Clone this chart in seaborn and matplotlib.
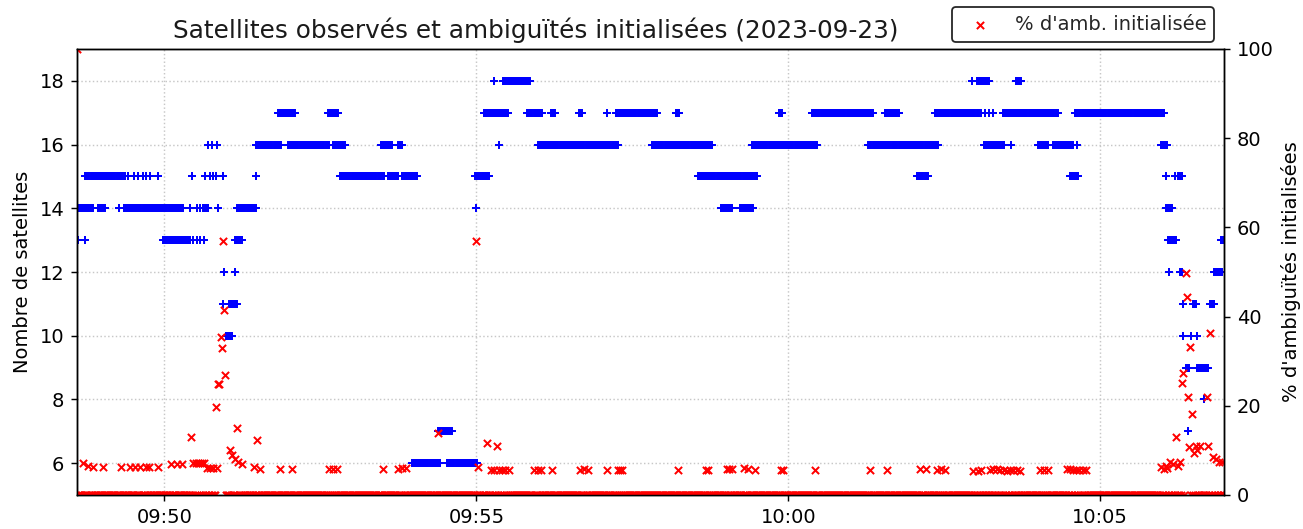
import pandas as pd
import matplotlib
matplotlib.use("Agg")
import matplotlib.pyplot as plt
import matplotlib.dates as mdates
import seaborn as sns

sns.set_style("ticks")
plt.rcParams["font.size"] = 10.8

day = "2023-09-23"
t_first = "09:48:36"
t_last = "10:06:59"

# number of satellites, continuous runs of 1 s epochs (start, end, count)
run_start = ["09:48:37", "09:48:56", "09:49:21", "09:50:37", "09:51:10", "09:58:55", "09:59:14", "10:06:03",
             "09:48:44", "09:52:49", "09:53:35", "09:53:49", "09:54:59", "09:58:33", "10:02:04", "10:04:31", "10:06:15",
             "09:51:28", "09:51:59", "09:52:42", "09:53:28", "09:53:45", "09:55:59", "09:57:49", "09:59:25",
             "10:01:17", "10:01:40", "10:03:08", "10:04:00", "10:04:15", "10:05:58",
             "09:51:49", "09:52:37", "09:55:07", "09:55:49", "09:56:12", "09:56:39", "09:57:14", "09:58:12",
             "09:59:51", "10:00:23", "10:01:33", "10:02:21", "10:03:26", "10:04:36",
             "09:55:26", "10:03:01", "10:03:39",
             "09:49:59", "09:51:08", "10:06:05", "10:06:56",
             "10:06:17", "10:06:49",
             "09:51:02", "10:06:29", "10:06:46",
             "09:50:59",
             "10:06:22", "10:06:33",
             "09:54:23",
             "09:53:58", "09:54:32"]
run_end = ["09:48:51", "09:49:03", "09:50:18", "09:50:42", "09:51:28", "09:59:06", "09:59:26", "10:06:09",
           "09:49:22", "09:53:31", "09:53:45", "09:54:03", "09:55:12", "09:59:30", "10:02:14", "10:04:39", "10:06:19",
           "09:51:52", "09:52:38", "09:52:54", "09:53:39", "09:53:49", "09:57:16", "09:58:47", "10:00:28",
           "10:01:38", "10:02:24", "10:03:27", "10:04:10", "10:04:34", "10:06:04",
           "09:52:06", "09:52:47", "09:55:30", "09:56:03", "09:56:16", "09:56:42", "09:57:54", "09:58:15",
           "09:59:54", "10:01:21", "10:01:46", "10:03:03", "10:04:19", "10:06:01",
           "09:55:52", "10:03:13", "10:03:44",
           "09:50:25", "09:51:15", "10:06:13", "10:06:59",
           "10:06:19", "10:06:57",
           "09:51:10", "10:06:32", "10:06:49",
           "09:51:05",
           "10:06:25", "10:06:44",
           "09:54:37",
           "09:54:25", "09:55:01"]
run_count = [14, 14, 14, 14, 14, 14, 14, 14,
             15, 15, 15, 15, 15, 15, 15, 15, 15,
             16, 16, 16, 16, 16, 16, 16, 16,
             16, 16, 16, 16, 16, 16,
             17, 17, 17, 17, 17, 17, 17, 17,
             17, 17, 17, 17, 17, 17,
             18, 18, 18,
             13, 13, 13, 13,
             12, 12,
             11, 11, 11,
             10,
             9, 9,
             7,
             6, 6]

# number of satellites, isolated epochs
single_time = ["09:48:36", "09:48:37", "09:48:44", "09:50:28", "09:50:31", "09:50:34", "09:50:38",
               "09:49:16", "09:50:25", "09:50:31", "09:50:34", "09:50:52", "09:55:00",
               "09:49:25", "09:49:31", "09:49:35", "09:49:39", "09:49:42", "09:49:46", "09:49:54", "09:50:27",
               "09:50:39", "09:50:44", "09:50:47", "09:50:50", "09:50:56", "09:51:28", "10:06:03", "10:06:12",
               "09:50:42", "09:50:46", "09:50:51", "09:55:22", "10:03:34", "10:04:38",
               "09:57:06", "10:03:05", "10:03:09", "10:03:13", "10:03:17",
               "09:55:17", "10:02:57",
               "09:50:57", "09:51:08", "10:06:06",
               "09:50:56", "10:06:20",
               "10:06:20", "10:06:27", "10:06:33",
               "10:06:40", "10:06:24"]
single_count = [13, 13, 13, 13, 13, 13, 13,
                14, 14, 14, 14, 14, 14,
                15, 15, 15, 15, 15, 15, 15, 15,
                15, 15, 15, 15, 15, 15, 15, 15,
                16, 16, 16, 16, 16, 16,
                17, 17, 17, 17, 17,
                18, 18,
                12, 12, 12,
                11, 11,
                10, 10, 10,
                8, 7]

# % of ambiguities initialised, epochs above 0 (every other epoch is 0 %)
amb_time = ["09:48:36", "09:48:42", "09:48:47", "09:48:51", "09:49:01", "09:49:18", "09:49:27", "09:49:32",
            "09:49:37", "09:49:42", "09:49:45", "09:49:54", "09:50:06", "09:50:12", "09:50:17", "09:50:26",
            "09:50:28", "09:50:30", "09:50:32", "09:50:34", "09:50:36", "09:50:38", "09:50:41", "09:50:44",
            "09:50:47", "09:50:50", "09:50:51", "09:50:52", "09:50:53", "09:50:54", "09:50:55", "09:50:56",
            "09:50:57", "09:50:58", "09:51:03", "09:51:05", "09:51:08", "09:51:10", "09:51:11", "09:51:15",
            "09:51:26", "09:51:29", "09:51:32", "09:51:51", "09:52:03", "09:52:38", "09:52:42", "09:52:46",
            "09:53:30", "09:53:45", "09:53:49", "09:53:52", "09:54:23", "09:55:00", "09:55:02", "09:55:10",
            "09:55:14", "09:55:17", "09:55:20", "09:55:22", "09:55:25", "09:55:28", "09:55:31", "09:55:55",
            "09:55:59", "09:56:02", "09:56:13", "09:56:40", "09:56:44", "09:56:47", "09:57:06", "09:57:16",
            "09:57:18", "09:57:20", "09:58:14", "09:58:41", "09:58:43", "09:59:01", "09:59:03", "09:59:06",
            "09:59:17", "09:59:21", "09:59:28", "09:59:53", "09:59:55", "10:00:26", "10:01:19", "10:01:35",
            "10:02:07", "10:02:12", "10:02:23", "10:02:27", "10:02:31", "10:02:58", "10:03:02", "10:03:05",
            "10:03:14", "10:03:17", "10:03:21", "10:03:24", "10:03:27", "10:03:30", "10:03:33", "10:03:36",
            "10:03:40", "10:03:43", "10:04:02", "10:04:06", "10:04:10", "10:04:28", "10:04:31", "10:04:34",
            "10:04:37", "10:04:40", "10:04:43", "10:04:46", "10:05:58", "10:06:01", "10:06:03", "10:06:04",
            "10:06:07", "10:06:10", "10:06:13", "10:06:15", "10:06:17", "10:06:19", "10:06:20", "10:06:22",
            "10:06:23", "10:06:24", "10:06:25", "10:06:26", "10:06:28", "10:06:30", "10:06:32", "10:06:33",
            "10:06:36", "10:06:43", "10:06:44", "10:06:46", "10:06:48", "10:06:51", "10:06:54", "10:06:57"]
amb_pct = [100.0, 7.2, 6.5, 6.3, 6.3, 6.3, 6.3, 6.3,
           6.3, 6.3, 6.3, 6.3, 7.0, 7.0, 7.0, 13.0,
           7.2, 7.2, 7.2, 7.2, 7.2, 7.2, 6.0, 6.0,
           6.0, 19.7, 6.0, 25.0, 25.0, 35.5, 33.0, 57.0,
           41.5, 27.0, 10.0, 9.0, 8.0, 15.0, 7.4, 7.0,
           6.3, 12.3, 5.8, 5.8, 5.8, 5.8, 5.8, 5.8,
           5.8, 5.8, 6.0, 6.0, 14.0, 57.0, 6.3, 11.6,
           5.6, 5.6, 11.0, 5.6, 5.6, 5.6, 5.6, 5.6,
           5.6, 5.6, 5.6, 5.6, 5.8, 5.6, 5.6, 5.6,
           5.6, 5.6, 5.6, 5.6, 5.6, 5.8, 5.8, 5.8,
           6.0, 5.8, 5.6, 5.6, 5.6, 5.6, 5.6, 5.6,
           5.8, 5.8, 5.6, 5.8, 5.6, 5.4, 5.4, 5.6,
           5.6, 5.8, 5.8, 5.6, 5.6, 5.4, 5.6, 5.6,
           5.6, 5.4, 5.6, 5.6, 5.6, 5.8, 5.8, 5.6,
           5.6, 5.6, 5.6, 5.6, 6.3, 5.8, 6.5, 6.0,
           7.4, 7.0, 13.0, 6.5, 7.5, 25.1, 27.4, 49.8,
           44.4, 22.0, 10.8, 33.2, 18.2, 9.5, 11.0, 10.0,
           11.0, 22.0, 11.0, 36.3, 8.5, 8.0, 7.5, 7.5]


def ts(hms):
    return pd.Timestamp(f"{day} {hms}")


rows = []
for a, b, n in zip(run_start, run_end, run_count):
    for t in pd.date_range(ts(a), ts(b), freq="1s"):
        rows.append((t, n))
for t, n in zip(single_time, single_count):
    rows.append((ts(t), n))
sats = pd.DataFrame(rows, columns=["time", "nsat"])

epochs = pd.date_range(ts(t_first), ts(t_last), freq="1s")
amb_nz = pd.DataFrame({"time": [ts(t) for t in amb_time], "pct": amb_pct})
amb = pd.DataFrame({"time": epochs, "pct": 0.0})
amb = pd.concat([amb[~amb["time"].isin(amb_nz["time"])], amb_nz], ignore_index=True)

fig, ax1 = plt.subplots(figsize=(1303 / 130, 529 / 130), dpi=130)
fig.subplots_adjust(left=77 / 1303, right=1224 / 1303, bottom=1 - 495 / 529, top=1 - 49 / 529)
ax2 = ax1.twinx()

sns.scatterplot(data=sats, x="time", y="nsat", ax=ax1, marker="+", color="blue",
                s=20, linewidth=1.1, legend=False)
sns.scatterplot(data=amb, x="time", y="pct", ax=ax2, marker="x", color="red",
                s=16, linewidth=1.1, label="% d'amb. initialisée")

ax1.set_xlim(ts(t_first), ts(t_last))
ax1.set_ylim(5, 19)
ax1.set_yticks(range(6, 19, 2))
ax2.set_ylim(0, 100)
ax1.xaxis.set_major_locator(mdates.MinuteLocator(byminute=range(0, 60, 5)))
ax1.xaxis.set_major_formatter(mdates.DateFormatter("%H:%M"))
ax1.grid(True, linestyle=":", color="0.78", linewidth=0.8)

ax1.set_xlabel("")
ax2.set_xlabel("")
ax1.set_ylabel("Nombre de satellites", color="black", fontsize=10.8)
ax2.set_ylabel("% d'ambiguïtés initialisées", color="black", fontsize=10.8)
ax1.set_title("Satellites observés et ambiguïtés initialisées (2023-09-23)",
              fontsize=13.7, x=0.40, color="0.1")
for ax in (ax1, ax2):
    ax.tick_params(colors="black", labelcolor="black", labelsize=10.8)
    for sp in ax.spines.values():
        sp.set_color("black")

ax2.legend(loc="upper right", bbox_to_anchor=(1.0, 1.115), edgecolor="0.15",
           framealpha=1, fontsize=10.8)

fig.savefig("out.png", dpi=130)
